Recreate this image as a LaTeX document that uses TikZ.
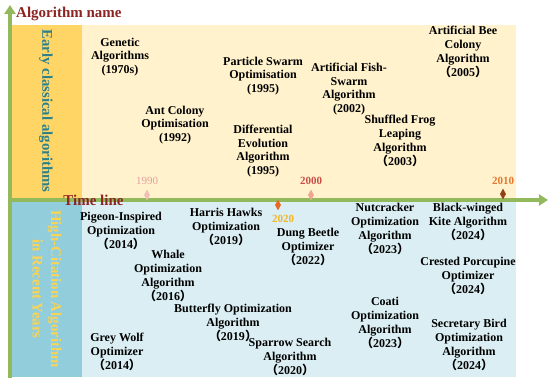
\documentclass[tikz,border=0pt]{standalone}
\usepackage{fontspec}
\setmainfont{Liberation Serif}
\newfontfamily\cjk{Noto Sans CJK SC}
\usetikzlibrary{arrows.meta, shapes.geometric}
\definecolor{stripyellow}{RGB}{255,214,102}
\definecolor{panelcream}{RGB}{255,242,204}
\definecolor{stripblue}{RGB}{146,205,220}
\definecolor{panelblue}{RGB}{218,238,243}
\definecolor{axisgreen}{RGB}{146,186,92}
\definecolor{axisred}{RGB}{140,36,36}
\definecolor{earlyteal}{RGB}{42,128,140}
\definecolor{recentgold}{RGB}{250,212,82}
\definecolor{pin1990}{RGB}{240,190,185}
\definecolor{pin2000}{RGB}{240,165,145}
\definecolor{pin2010}{RGB}{150,62,20}
\definecolor{pin2020}{RGB}{232,104,34}
\definecolor{lbl1990}{RGB}{228,160,160}
\definecolor{lbl2000}{RGB}{200,80,70}
\definecolor{lbl2010}{RGB}{228,120,50}
\definecolor{lbl2020}{RGB}{242,182,40}
\newcommand{\fwl}{{\cjk （}}
\newcommand{\fwr}{{\cjk ）}}
\tikzset{
    algname/.style={align=center, font=\fontsize{12}{13.8}\selectfont\bfseries, inner sep=0pt},
    axisline/.style={-{Triangle[length=9pt, width=11pt]}, line width=3.5pt, color=axisgreen},
    axislbl/.style={font=\fontsize{15}{17}\selectfont\bfseries, text=axisred, inner sep=0pt},
    stripname/.style={rotate=-90, align=center, font=\fontsize{14.8}{18.5}\selectfont\bfseries, text=#1, inner sep=0pt},
    yearpin/.style={diamond, fill=#1, minimum width=6pt, minimum height=11pt, inner sep=0pt},
    yearlbl/.style={font=\fontsize{11}{13}\selectfont\bfseries, text=#1, inner sep=0pt}
}
\begin{document}
\begin{tikzpicture}[x=1pt, y=-1pt]
    \useasboundingbox (0,0) rectangle (550,382);
    % panels
    \fill[panelcream] (82,25) rectangle (516,198);
    \fill[stripyellow] (10,25) rectangle (82,198);
    \fill[panelblue] (82,202) rectangle (516,377);
    \fill[stripblue] (10,202) rectangle (82,377);

    % axes
    \coordinate (vbot) at (10,378);
    \coordinate (vtop) at (10,5);
    \coordinate (hleft) at (8.25,200);
    \coordinate (hright) at (548,200);
    \draw[axisline] (vbot) -- (vtop);
    \draw[axisline] (hleft) -- (hright);
    \node[axislbl, anchor=west] (yname) at (16,14) {Algorithm name};
    \node[axislbl] (xname) at (93.5,200) {Time line};

    % strip titles
    \node[stripname=earlyteal] (early) at (46,111) {Early classical algorithms};
    \node[stripname=recentgold] (recent) at (47,289) {High-Citation Algorithm\\in Recent Years};

    % year markers
    \node[yearpin=pin1990] (m1990) at (147,195) {};
    \node[yearpin=pin2000] (m2000) at (311,195) {};
    \node[yearpin=pin2010] (m2010) at (503,194) {};
    \node[yearpin=pin2020] (m2020) at (278,205) {};
    \node[yearlbl=lbl1990, font=\fontsize{11}{13}\selectfont] (y1990) at (147,181) {1990};
    \node[yearlbl=lbl2000] (y2000) at (311,181) {2000};
    \node[yearlbl=lbl2010] (y2010) at (503,181) {2010};
    \node[yearlbl=lbl2020] (y2020) at (283,219) {2020};

    % early classical algorithms
    \node[algname] (ga) at (120,57) {Genetic\\Algorithms\\(1970s)};
    \node[algname] (aco) at (175,125) {Ant Colony\\Optimisation\\(1992)};
    \node[algname] (pso) at (263,76) {Particle Swarm\\Optimisation\\(1995)};
    \node[algname] (de) at (263,151) {Differential\\Evolution\\Algorithm\\(1995)};
    \node[algname] (afsa) at (349,89) {Artificial Fish-\\Swarm\\Algorithm\\(2002)};
    \node[algname] (sfla) at (400,141) {Shuffled Frog\\Leaping\\Algorithm\\\fwl 2003\fwr};
    \node[algname] (abc) at (463,52) {Artificial Bee\\Colony\\Algorithm\\\fwl 2005\fwr};

    % recent algorithms
    \node[algname] (pio) at (121,231) {Pigeon-Inspired\\Optimization\\\fwl 2014\fwr};
    \node[algname] (hho) at (226,227) {Harris Hawks\\Optimization\\\fwl 2019\fwr};
    \node[algname] (woa) at (168,276) {Whale\\Optimization\\Algorithm\\\fwl 2016\fwr};
    \node[algname] (boa) at (233,323) {Butterfly Optimization\\Algorithm\\\fwl 2019\fwr};
    \node[algname] (gwo) at (117,352) {Grey Wolf\\Optimizer\\\fwl 2014\fwr};
    \node[algname] (ssa) at (290,357) {Sparrow Search\\Algorithm\\\fwl 2020\fwr};
    \node[algname] (dbo) at (308,247) {Dung Beetle\\Optimizer\\\fwl 2022\fwr};
    \node[algname] (noa) at (385,229) {Nutcracker\\Optimization\\Algorithm\\\fwl 2023\fwr};
    \node[algname] (coa) at (385,323) {Coati\\Optimization\\Algorithm\\\fwl 2023\fwr};
    \node[algname] (bka) at (468,222) {Black-winged\\Kite Algorithm\\\fwl 2024\fwr};
    \node[algname] (cpo) at (468,276) {Crested Porcupine\\Optimizer\\\fwl 2024\fwr};
    \node[algname] (sbo) at (469,345) {Secretary Bird\\Optimization\\Algorithm\\\fwl 2024\fwr};
\end{tikzpicture}
\end{document}
